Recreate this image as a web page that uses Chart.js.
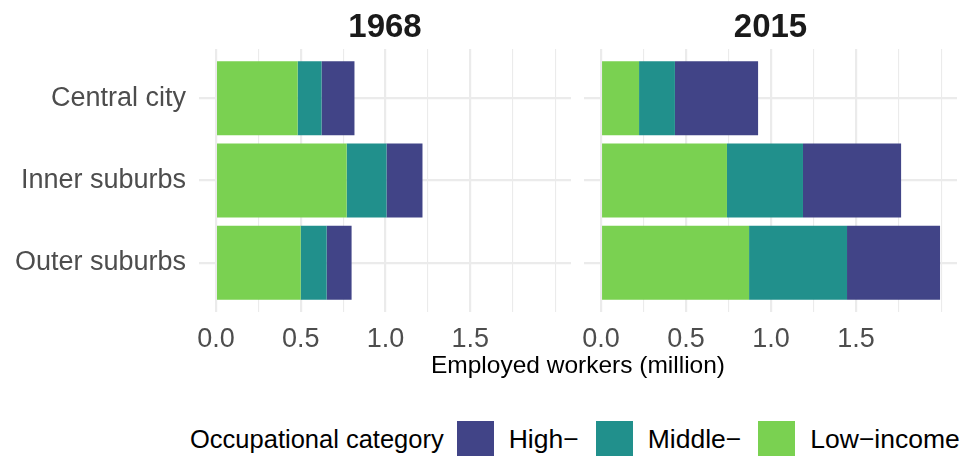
<!DOCTYPE html>
<html>
<head>
<meta charset="utf-8">
<script src="https://cdn.jsdelivr.net/npm/chart.js@4.4.1/dist/chart.umd.min.js"></script>
<style>
    body { margin: 0; background: #ffffff; font-family: "Liberation Sans", Arial, sans-serif; }
    #wrap { position: relative; width: 969px; height: 456px; overflow: hidden; }
    canvas { position: absolute; top: 0; }
    #x-title { position: absolute; left: 0; width: 1156px; top: 351px; text-align: center; font-size: 24.5px; color: #000; }
    #legend { position: absolute; left: 190px; top: 421px; height: 37px; display: flex; align-items: center; font-size: 25.5px; color: #000; white-space: nowrap; }
    #legend .key { display: inline-block; width: 37px; height: 37px; }
    #legend .lbl { font-size: 26.5px; margin-left: 15px; margin-right: 17px; }
</style>
</head>
<body>
<div id="wrap">
    <canvas id="chart-1968" width="580" height="360" style="left: 0px;"></canvas>
    <canvas id="chart-2015" width="405" height="360" style="left: 564px;"></canvas>
    <div id="x-title">Employed workers (million)</div>
    <div id="legend"></div>
</div>
<script>
// area types (top to bottom)
let areas = ['Central city', 'Inner suburbs', 'Outer suburbs'];
let area_pos = [1, 2, 3];

// employed workers in million
let low_1968 = [0.482, 0.771, 0.500];
let mid_1968 = [0.141, 0.235, 0.153];
let high_1968 = [0.194, 0.212, 0.147];

let low_2015 = [0.224, 0.741, 0.871];
let mid_2015 = [0.211, 0.447, 0.576];
let high_2015 = [0.489, 0.577, 0.547];

let cat_names = ['Low\u2212income', 'Middle\u2212', 'High\u2212'];
let cat_colors = ['#7AD151', '#21908C', '#414487'];
let x_ticks = [0, 0.5, 1.0, 1.5];

const grid_col = '#EBEBEB';
const font_fam = "'Liberation Sans', Arial, sans-serif";

function to_points(vals) {
    return vals.map((v, i) => ({ x: v, y: area_pos[i] }));
}

function is_major(v) {
    return x_ticks.some(t => Math.abs(t - v) < 1e-6);
}

// facet strip label drawn over the panel
const strip_title = {
    id: 'strip_title',
    afterDraw(chart, args, opts) {
        let ctx = chart.ctx;
        let area = chart.chartArea;
        ctx.save();
        ctx.font = `bold 33px ${font_fam}`;
        ctx.fillStyle = '#1A1A1A';
        ctx.textAlign = 'center';
        ctx.textBaseline = 'alphabetic';
        ctx.fillText(opts.text, (area.left + area.right) / 2, 37);
        ctx.restore();
    }
};

function make_chart(id, year, low, mid, high, y_width, pad) {
    let ctx = document.getElementById(id);
    let series = [low, mid, high];
    return new Chart(ctx, {
        type: 'bar',
        data: {
            datasets: series.map((s, k) => ({
                label: cat_names[k],
                data: to_points(s),
                backgroundColor: cat_colors[k],
                borderWidth: 0,
                categoryPercentage: 1,
                barPercentage: 0.9
            }))
        },
        options: {
            indexAxis: 'y',
            responsive: false,
            animation: false,
            layout: { padding: pad },
            scales: {
                x: {
                    type: 'linear',
                    stacked: true,
                    min: -0.0997,
                    max: 2.0937,
                    border: { display: false },
                    grid: {
                        color: grid_col,
                        drawTicks: false,
                        lineWidth: (c) => is_major(c.tick.value) ? 2.2 : 1.1
                    },
                    ticks: {
                        stepSize: 0.25,
                        includeBounds: false,
                        autoSkip: false,
                        maxRotation: 0,
                        padding: 11,
                        color: '#4D4D4D',
                        font: { size: 27, family: font_fam },
                        callback: (v) => is_major(v) ? v.toFixed(1) : ''
                    },
                    afterFit: (scale) => { scale.height = 48; }
                },
                y: {
                    type: 'linear',
                    stacked: true,
                    reverse: true,
                    offset: false,
                    min: 0.4,
                    max: 3.6,
                    border: { display: false },
                    grid: { color: grid_col, drawTicks: false, offset: false, lineWidth: 2.2 },
                    ticks: {
                        display: y_width > 100,
                        stepSize: 1,
                        includeBounds: false,
                        padding: 13,
                        color: '#4D4D4D',
                        font: { size: 27, family: font_fam },
                        callback: (v) => areas[area_pos.indexOf(v)] || ''
                    },
                    afterFit: (scale) => { scale.width = y_width; }
                }
            },
            plugins: {
                legend: { display: false },
                tooltip: { enabled: false },
                strip_title: { text: year }
            }
        },
        plugins: [strip_title]
    });
}

make_chart('chart-1968', '1968', low_1968, mid_1968, high_1968, 199, { top: 49, right: 9, left: 0, bottom: 0 });
make_chart('chart-2015', '2015', low_2015, mid_2015, high_2015, 20, { top: 49, right: 12, left: 0, bottom: 0 });

// legend, reversed order like the reference
let legend = document.getElementById('legend');
legend.innerHTML = '<span style="margin-right: 13px;">Occupational category</span>';
for (let k = cat_names.length - 1; k >= 0; k--) {
    legend.innerHTML += `<span class="key" style="background: ${cat_colors[k]};"></span><span class="lbl">${cat_names[k]}</span>`;
}
</script>
</body>
</html>
